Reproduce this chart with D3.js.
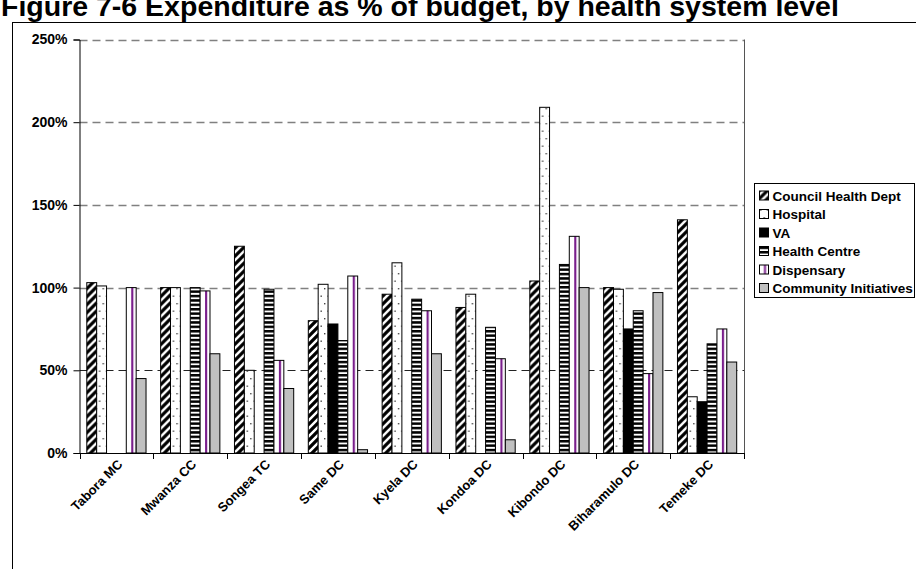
<!DOCTYPE html>
<html>
<head>
<meta charset="utf-8">
<script src="https://cdn.jsdelivr.net/npm/d3@7"></script>
<style>
  html, body { margin: 0; padding: 0; background: #fff; }
  svg { display: block; font-family: "Liberation Sans", Arial, sans-serif; }
</style>
</head>
<body>
<svg id="chart" width="916" height="569"></svg>
<script>
// Districts (x categories)
const districts = ["Tabora MC", "Mwanza CC", "Songea TC", "Same DC", "Kyela DC",
                   "Kondoa DC", "Kibondo DC", "Biharamulo DC", "Temeke DC"];

// Health system levels (series)
const levels = ["Council Health Dept", "Hospital", "VA", "Health Centre",
                "Dispensary", "Community Initiatives"];

// Expenditure as % of budget, one array per level, in district order
const councilHealthDept    = [103, 100, 125,  80,  96,  88, 104, 100, 141];
const hospital             = [101, 100,  50, 102, 115,  96, 209,  99,  34];
const va                   = [  0,   0,   0,  78,   0,   0,   0,  75,  31];
const healthCentre         = [  0, 100,  99,  68,  93,  76, 114,  86,  66];
const dispensary           = [100,  98,  56, 107,  86,  57, 131,  48,  75];
const communityInitiatives = [ 45,  60,  39,   2,  60,   8, 100,  97,  55];

const yTicks = [0, 50, 100, 150, 200, 250];
const yTickLabels = ["0%", "50%", "100%", "150%", "200%", "250%"];

const seriesValues = [councilHealthDept, hospital, va, healthCentre, dispensary, communityInitiatives];
const fills = ["url(#pDiag)", "url(#pDots)", "#000000", "url(#pHoriz)", "url(#pVert)", "#c0c0c0"];

const svg = d3.select("#chart");

// ---- fill patterns ----
const defs = svg.append("defs");

const diag = defs.append("pattern").attr("id", "pDiag")
  .attr("patternUnits", "userSpaceOnUse").attr("width", 8).attr("height", 8);
diag.append("rect").attr("width", 8).attr("height", 8).attr("fill", "#fff");
diag.append("path").attr("d", "M-2,2 L2,-2 M0,8 L8,0 M6,10 L10,6")
  .attr("stroke", "#000").attr("stroke-width", 3.2);

const dots = defs.append("pattern").attr("id", "pDots")
  .attr("patternUnits", "userSpaceOnUse").attr("width", 7).attr("height", 15);
dots.append("rect").attr("width", 7).attr("height", 15).attr("fill", "#fff");
dots.append("rect").attr("x", 2).attr("y", 3).attr("width", 1.4).attr("height", 1.4).attr("fill", "#444");
dots.append("rect").attr("x", 5.5).attr("y", 10.5).attr("width", 1.4).attr("height", 1.4).attr("fill", "#444");

const horiz = defs.append("pattern").attr("id", "pHoriz")
  .attr("patternUnits", "userSpaceOnUse").attr("width", 8).attr("height", 4.4);
horiz.append("rect").attr("width", 8).attr("height", 4.4).attr("fill", "#fff");
horiz.append("rect").attr("y", 0).attr("width", 8).attr("height", 2.5).attr("fill", "#000");

const vert = defs.append("pattern").attr("id", "pVert")
  .attr("patternUnits", "objectBoundingBox").attr("patternContentUnits", "objectBoundingBox")
  .attr("width", 1).attr("height", 1);
vert.append("rect").attr("width", 1).attr("height", 1).attr("fill", "#fff");
vert.append("rect").attr("x", 0.5).attr("width", 0.22).attr("height", 1).attr("fill", "#7a1f8c");

// ---- outer frame ----
svg.append("rect").attr("x", 12.5).attr("y", 22.5).attr("width", 1000).attr("height", 700)
  .attr("fill", "none").attr("stroke", "#000").attr("stroke-width", 1);

// ---- title (runs past the top edge of the page) ----
svg.append("text").attr("x", 1).attr("y", 16)
  .attr("font-size", 28.5).attr("font-weight", "bold").attr("fill", "#000")
  .text("Figure 7-6 Expenditure as % of budget, by health system level");

// ---- scales ----
const plot = { left: 79.5, right: 744, top: 39.5, bottom: 453 };

const x0 = d3.scaleBand().domain(districts).range([plot.left, plot.right]).padding(0);
const groupPad = 7.3;
const x1 = d3.scaleBand().domain(levels).range([groupPad, x0.bandwidth() - groupPad]).padding(0);
const y = d3.scaleLinear().domain([0, 250]).range([plot.bottom, plot.top]);

// ---- gridlines ----
svg.append("g").selectAll("line").data(yTicks.filter(d => d > 0)).join("line")
  .attr("x1", plot.left).attr("x2", plot.right)
  .attr("y1", d => Math.round(y(d)) + 0.5).attr("y2", d => Math.round(y(d)) + 0.5)
  .attr("stroke", d => d === 50 ? "#222" : "#808080")
  .attr("stroke-width", d => d === 50 ? 1 : 1.3)
  .attr("stroke-dasharray", "8,5");

// right border of plot area
svg.append("line").attr("x1", plot.right + 0.5).attr("x2", plot.right + 0.5)
  .attr("y1", plot.top).attr("y2", plot.bottom).attr("stroke", "#555").attr("stroke-width", 1);

// ---- bars ----
const groups = svg.append("g").selectAll("g").data(districts).join("g")
  .attr("transform", d => `translate(${x0(d)},0)`);

groups.selectAll("rect")
  .data((d, i) => levels.map((lv, j) => ({ level: lv, j, value: seriesValues[j][i] }))
                        .filter(b => b.value > 0))
  .join("rect")
  .attr("x", d => x1(d.level))
  .attr("y", d => y(d.value))
  .attr("width", x1.bandwidth())
  .attr("height", d => y(0) - y(d.value))
  .attr("fill", d => fills[d.j])
  .attr("stroke", "#000").attr("stroke-width", 1);

// ---- y axis ----
const yAxis = d3.axisLeft(y).tickValues(yTicks).tickFormat((d, i) => yTickLabels[i])
  .tickSize(6).tickPadding(6);
const gy = svg.append("g").attr("transform", `translate(${plot.left},0)`).call(yAxis);
gy.attr("font-family", null);
gy.select(".domain").attr("stroke", "#000");
gy.selectAll(".tick line").attr("stroke", "#000");
gy.selectAll(".tick text").attr("font-size", 14).attr("font-weight", "bold").attr("fill", "#000");

// ---- x axis ----
const gx = svg.append("g").attr("transform", `translate(0,${plot.bottom})`);
gx.append("line").attr("x1", plot.left).attr("x2", plot.right).attr("y1", 0.5).attr("y2", 0.5)
  .attr("stroke", "#000");
const boundaries = districts.map(d => x0(d)).concat([plot.right]);
gx.selectAll("line.tk").data(boundaries).join("line").attr("class", "tk")
  .attr("x1", d => Math.round(d) + 0.5).attr("x2", d => Math.round(d) + 0.5)
  .attr("y1", 0).attr("y2", 6).attr("stroke", "#000");
gx.selectAll("text").data(districts).join("text")
  .attr("transform", d => `translate(${x0(d) + x0.bandwidth() / 2 + 7},${12}) rotate(-45)`)
  .attr("text-anchor", "end")
  .attr("font-size", 13).attr("font-weight", "bold").attr("fill", "#000")
  .text(d => d);

// ---- legend ----
const legend = svg.append("g").attr("transform", "translate(754.5,183.5)");
legend.append("rect").attr("width", 160).attr("height", 114)
  .attr("fill", "#fff").attr("stroke", "#000");
const items = legend.selectAll("g").data(levels).join("g")
  .attr("transform", (d, i) => `translate(0,${12 + i * 18.5})`);
items.append("rect").attr("x", 5).attr("y", -4.5).attr("width", 9).attr("height", 9)
  .attr("fill", (d, i) => fills[i]).attr("stroke", "#000");
items.append("text").attr("x", 18).attr("y", 5)
  .attr("font-size", 13.5).attr("font-weight", "bold").attr("fill", "#000")
  .text(d => d);
</script>
</body>
</html>
